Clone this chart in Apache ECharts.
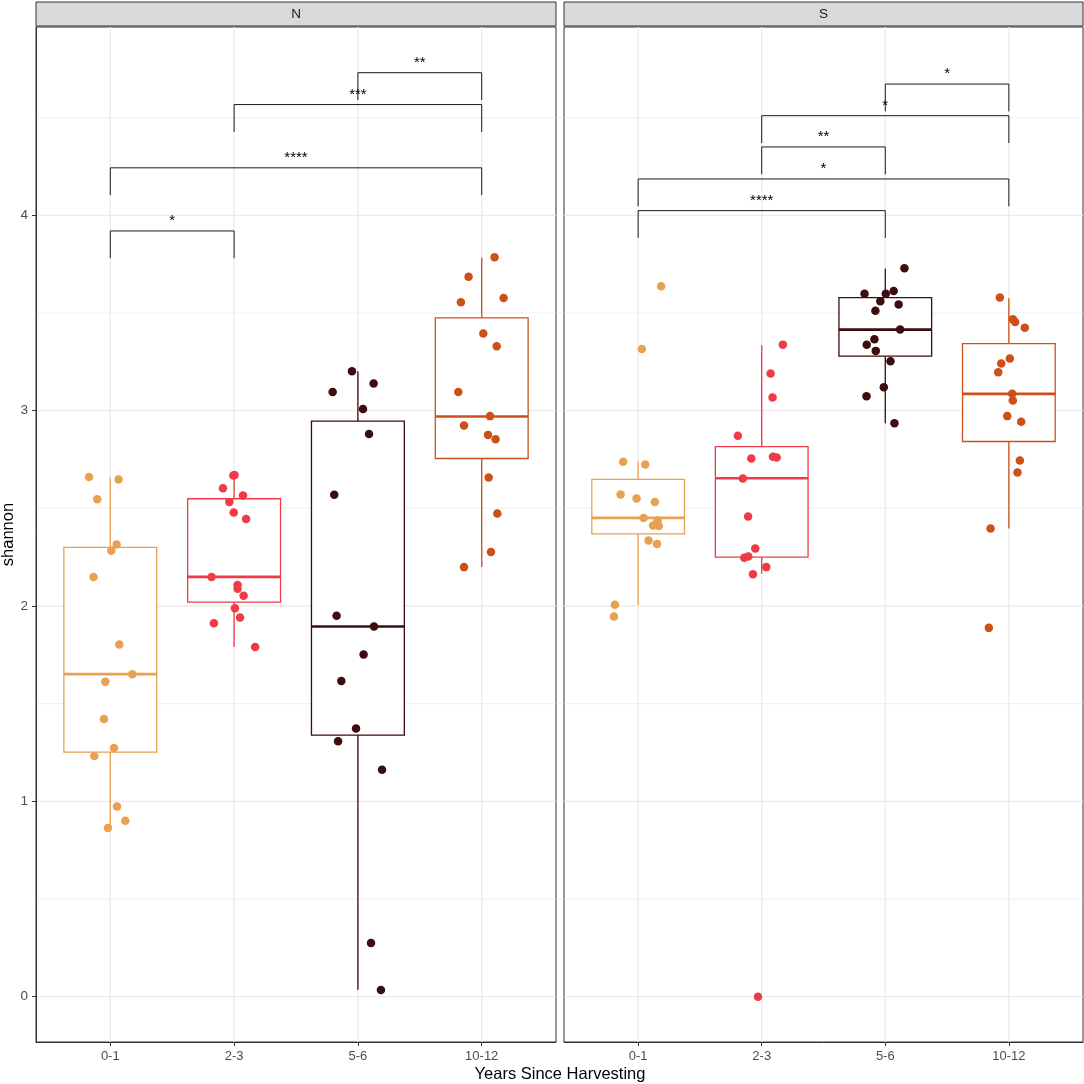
<!DOCTYPE html>
<html>
<head>
<meta charset="utf-8">
<script src="https://cdn.jsdelivr.net/npm/echarts@6/dist/echarts.min.js"></script>
<style>
html, body { margin: 0; padding: 0; background: #fff; }
#main { width: 1084px; height: 1084px; }
</style>
</head>
<body>
<div id="main"></div>
<script>
// groups on the x axis and the two facets
var categories = ['0-1', '2-3', '5-6', '10-12'];
var facets = ['N', 'S'];
var colors = ['#E8A150', '#EF3A47', '#3D0C0E', '#CC5118'];
var yTicks = [0, 1, 2, 3, 4];
var yMinor = [0.5, 1.5, 2.5, 3.5, 4.5];

// box stats per group: [lower whisker, Q1, median, Q3, upper whisker]
var boxN = [
    [0.863, 1.252, 1.651, 2.300, 2.658],
    [1.790, 2.020, 2.149, 2.549, 2.671],
    [0.036, 1.339, 1.895, 2.946, 3.202],
    [2.199, 2.755, 2.970, 3.475, 3.784]
];
var boxS = [
    [2.006, 2.369, 2.451, 2.648, 2.738],
    [2.165, 2.250, 2.654, 2.816, 3.335],
    [2.936, 3.279, 3.415, 3.579, 3.726],
    [2.397, 2.842, 3.086, 3.343, 3.576]
];

// jittered samples: [horizontal offset from group centre, shannon]
var n01 = [[-0.172, 2.660], [0.067, 2.648], [-0.105, 2.547], [0.051, 2.315], [0.008, 2.283], [-0.135, 2.148], [0.073, 1.803], [0.178, 1.651],
    [-0.040, 1.612], [-0.051, 1.421], [0.030, 1.273], [-0.129, 1.232], [0.054, 0.974], [0.121, 0.901], [-0.019, 0.863]];
var n23 = [[-0.006, 2.668], [0.004, 2.671], [-0.090, 2.603], [0.072, 2.566], [-0.038, 2.533], [-0.003, 2.479], [0.097, 2.445], [-0.182, 2.149],
    [0.028, 2.108], [0.028, 2.088], [0.077, 2.052], [0.007, 1.989], [0.048, 1.941], [-0.163, 1.912], [0.170, 1.790]];
var n56 = [[-0.048, 3.202], [0.127, 3.139], [-0.204, 3.095], [0.041, 3.009], [0.090, 2.881], [-0.191, 2.569], [-0.172, 1.950], [0.130, 1.895],
    [0.046, 1.752], [-0.134, 1.616], [-0.015, 1.373], [-0.160, 1.307], [0.195, 1.162], [0.106, 0.275], [0.186, 0.034]];
var n1012 = [[0.104, 3.785], [-0.106, 3.685], [0.177, 3.577], [-0.168, 3.555], [0.013, 3.395], [0.121, 3.330], [-0.189, 3.095], [0.067, 2.972],
    [-0.143, 2.924], [0.051, 2.876], [0.112, 2.854], [0.056, 2.658], [0.126, 2.473], [0.075, 2.276], [-0.143, 2.199]];
var s01 = [[0.186, 3.637], [0.030, 3.316], [-0.121, 2.738], [0.057, 2.724], [-0.142, 2.571], [-0.013, 2.550], [0.135, 2.532], [0.044, 2.451],
    [0.157, 2.438], [0.121, 2.412], [0.167, 2.409], [0.084, 2.335], [0.153, 2.318], [-0.188, 2.006], [-0.196, 1.946]];
var s23 = [[0.171, 3.338], [0.072, 3.190], [0.088, 3.067], [-0.193, 2.871], [-0.084, 2.755], [0.091, 2.764], [0.121, 2.760], [-0.153, 2.653],
    [-0.110, 2.458], [-0.052, 2.294], [-0.141, 2.247], [-0.109, 2.253], [0.037, 2.199], [-0.071, 2.163], [-0.030, 0.000]];
var s56 = [[0.155, 3.729], [-0.168, 3.599], [0.004, 3.599], [0.068, 3.613], [-0.040, 3.560], [0.108, 3.543], [-0.080, 3.512], [0.120, 3.415],
    [-0.088, 3.366], [-0.150, 3.337], [-0.077, 3.306], [0.042, 3.253], [-0.012, 3.120], [-0.152, 3.074], [0.074, 2.936]];
var s1012 = [[-0.073, 3.579], [0.032, 3.468], [0.051, 3.454], [0.129, 3.425], [0.008, 3.267], [-0.062, 3.241], [-0.086, 3.197], [0.027, 3.086],
    [0.032, 3.052], [-0.013, 2.972], [0.100, 2.943], [0.089, 2.745], [0.070, 2.683], [-0.148, 2.397], [-0.162, 1.888]];

// significance brackets: [from group, to group, bar height, label]
var sigN = [[3, 4, 4.730, '**'], [2, 4, 4.567, '***'], [1, 4, 4.243, '****'], [1, 2, 3.920, '*']];
var sigS = [[3, 4, 4.672, '*'], [2, 4, 4.510, '*'], [2, 3, 4.350, '**'], [1, 4, 4.186, '*'], [1, 3, 4.024, '****']];

var FONT = 'Liberation Sans, Arial, Helvetica, sans-serif';
var BOX_W = 0.75;
var SIG_DROP = 0.14;

var chart = echarts.init(document.getElementById('main'), null, { renderer: 'canvas' });

function renderGrid(params, api) {
    var kind = api.value(0), v = api.value(1);
    var cs = params.coordSys;
    if (kind === 0) {
        var p = api.coord([v, 0]);
        return { type: 'line', shape: { x1: p[0], y1: cs.y, x2: p[0], y2: cs.y + cs.height },
            style: { stroke: '#EBEBEB', lineWidth: 1.3 } };
    }
    var q = api.coord([1, v]);
    return { type: 'line', shape: { x1: cs.x, y1: q[1], x2: cs.x + cs.width, y2: q[1] },
        style: { stroke: '#EBEBEB', lineWidth: kind === 1 ? 1.3 : 0.8 } };
}

function renderBox(params, api) {
    var x = api.value(0);
    var c = colors[params.dataIndex];
    var hw = BOX_W / 2;
    var tl = api.coord([x - hw, api.value(4)]);
    var br = api.coord([x + hw, api.value(2)]);
    var mL = api.coord([x - hw, api.value(3)]);
    var mR = api.coord([x + hw, api.value(3)]);
    var lo = api.coord([x, api.value(1)]);
    var hi = api.coord([x, api.value(5)]);
    return {
        type: 'group',
        children: [
            { type: 'line', shape: { x1: hi[0], y1: hi[1], x2: hi[0], y2: tl[1] }, style: { stroke: c, lineWidth: 1.3 } },
            { type: 'line', shape: { x1: lo[0], y1: br[1], x2: lo[0], y2: lo[1] }, style: { stroke: c, lineWidth: 1.3 } },
            { type: 'rect', shape: { x: tl[0], y: tl[1], width: br[0] - tl[0], height: br[1] - tl[1] },
                style: { fill: '#fff', stroke: c, lineWidth: 1.3 } },
            { type: 'line', shape: { x1: mL[0], y1: mL[1], x2: mR[0], y2: mR[1] }, style: { stroke: c, lineWidth: 2.6 } }
        ]
    };
}

function makeSigRenderer(list) {
    return function (params, api) {
        var a = api.value(0), b = api.value(1), y = api.value(2);
        var p1 = api.coord([a, y - SIG_DROP]);
        var p2 = api.coord([a, y]);
        var p3 = api.coord([b, y]);
        var p4 = api.coord([b, y - SIG_DROP]);
        return {
            type: 'group',
            children: [
                { type: 'polyline', shape: { points: [p1, p2, p3, p4] },
                    style: { stroke: '#1a1a1a', fill: 'none', lineWidth: 1 } },
                { type: 'text', x: (p2[0] + p3[0]) / 2, y: p2[1] - 10,
                    style: { text: list[params.dataIndex][3], align: 'center', verticalAlign: 'middle',
                        font: '15px ' + FONT, fill: '#000' } }
            ]
        };
    };
}

var gridData = [];
[1, 2, 3, 4].forEach(function (v) { gridData.push([0, v]); });
yTicks.forEach(function (v) { gridData.push([1, v]); });
yMinor.forEach(function (v) { gridData.push([2, v]); });

var boxes = [boxN, boxS];
var points = [[n01, n23, n56, n1012], [s01, s23, s56, s1012]];
var sigs = [sigN, sigS];

var grids = [
    { left: 36, right: 528, top: 27, bottom: 42 },
    { left: 564, right: 1, top: 27, bottom: 42 }
];
var xAxes = [], yAxes = [], series = [];

facets.forEach(function (f, i) {
    grids[i].show = true;
    grids[i].borderColor = '#333';
    grids[i].borderWidth = 1;
    grids[i].backgroundColor = 'transparent';
    grids[i].containLabel = false;
    grids[i].outerBoundsMode = 'none';

    xAxes.push({
        gridIndex: i, type: 'value', min: 0.4, max: 4.6,
        splitLine: { show: false },
        axisLine: { show: true, onZero: false, lineStyle: { color: '#333', width: 1 } },
        axisTick: { show: true, length: 4, customValues: [1, 2, 3, 4], lineStyle: { color: '#333' } },
        axisLabel: { customValues: [1, 2, 3, 4], color: '#4D4D4D', fontSize: 13, fontFamily: FONT, margin: 8,
            formatter: function (v) { return categories[Math.round(v) - 1]; } }
    });
    yAxes.push({
        gridIndex: i, type: 'value', min: -0.232, max: 4.964,
        name: i === 0 ? 'shannon' : '', nameLocation: 'middle', nameRotate: 90, nameGap: 18,
        nameTextStyle: { color: '#000', fontSize: 16.5, fontFamily: FONT },
        splitLine: { show: false },
        axisLine: { show: i === 0, onZero: false, lineStyle: { color: '#333', width: 1 } },
        axisTick: { show: i === 0, length: 4, customValues: yTicks, lineStyle: { color: '#333' } },
        axisLabel: { show: i === 0, customValues: yTicks, color: '#4D4D4D', fontSize: 13.5, fontFamily: FONT, margin: 8 }
    });

    series.push({
        type: 'custom', xAxisIndex: i, yAxisIndex: i, silent: true, z: 0,
        renderItem: renderGrid, data: gridData, encode: { x: 1, y: 1 }
    });
    series.push({
        type: 'custom', xAxisIndex: i, yAxisIndex: i, silent: true, z: 2,
        renderItem: renderBox,
        data: boxes[i].map(function (b, k) { return [k + 1].concat(b); }),
        encode: { x: 0, y: [1, 2, 3, 4, 5] }
    });
    points[i].forEach(function (pts, k) {
        series.push({
            type: 'scatter', xAxisIndex: i, yAxisIndex: i, z: 3,
            symbol: 'circle', symbolSize: 8.5,
            itemStyle: { color: colors[k], opacity: 1 },
            data: pts.map(function (p) { return [k + 1 + p[0], p[1]]; })
        });
    });
    series.push({
        type: 'custom', xAxisIndex: i, yAxisIndex: i, silent: true, z: 4,
        renderItem: makeSigRenderer(sigs[i]),
        data: sigs[i].map(function (s) { return [s[0], s[1], s[2]]; }),
        encode: { x: [0, 1], y: 2 }
    });
});

var strips = [];
[[36, 556], [564, 1083]].forEach(function (r, i) {
    strips.push({ type: 'rect', shape: { x: r[0], y: 2, width: r[1] - r[0], height: 24 },
        style: { fill: '#D9D9D9', stroke: '#333', lineWidth: 1 } });
    strips.push({ type: 'text', x: (r[0] + r[1]) / 2, y: 14,
        style: { text: facets[i], align: 'center', verticalAlign: 'middle', font: '13.5px ' + FONT, fill: '#1A1A1A' } });
});
strips.push({ type: 'text', x: 560, y: 1074,
    style: { text: 'Years Since Harvesting', align: 'center', verticalAlign: 'middle', font: '16.5px ' + FONT, fill: '#000' } });

chart.setOption({
    animation: false,
    backgroundColor: '#fff',
    grid: grids,
    xAxis: xAxes,
    yAxis: yAxes,
    series: series,
    graphic: strips
});
</script>
</body>
</html>
